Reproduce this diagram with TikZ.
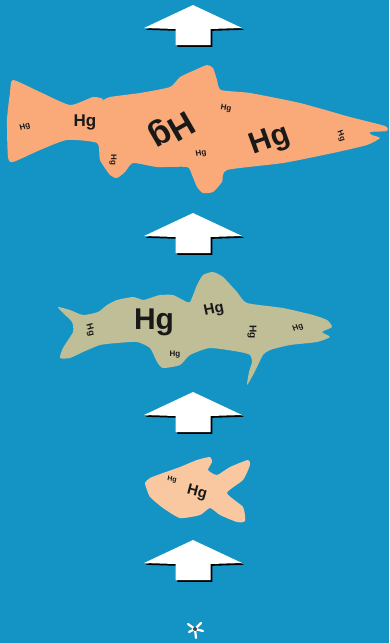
\documentclass[tikz,border=0pt]{standalone}
\usepackage{fontspec}
\setmainfont{Liberation Sans}
\definecolor{water}{RGB}{20,148,197}
\definecolor{trout}{RGB}{249,170,120}
\definecolor{perch}{RGB}{192,190,150}
\definecolor{minnow}{RGB}{249,200,160}
\definecolor{ink}{RGB}{25,25,25}
\tikzset{
  hg/.style={text=ink, inner sep=0pt, font=\bfseries\fontsize{#1}{#1}\selectfont},
  fishbody/.style={fill=#1, draw=none},
  pics/uparrow/.style={code={
    \fill[black] (1.8,1.8) -- (50.8,24.8) -- (19.3,25.8) -- (19.3,41.8) -- (-15.7,41.8) -- (-15.7,25.8) -- (-47.2,24.8) -- cycle;
    \fill[white] (0,0) -- (49,23) -- (17.5,24) -- (17.5,40) -- (-17.5,40) -- (-17.5,24) -- (-49,23) -- cycle;
  }}
}
\begin{document}
\begin{tikzpicture}[x=1pt,y=-1pt]
\fill[water] (0,0) rectangle (389,643);
\useasboundingbox (0,0) rectangle (389,643);

% arrows pointing up the food chain
\pic at (193,5) {uparrow};
\pic at (193,213) {uparrow};
\pic at (193,392) {uparrow};
\pic at (193,540) {uparrow};

% large predator fish
\fill[fishbody=trout] plot[smooth cycle, tension=0.35] coordinates {
  (13,80) (40,92) (70,105) (93,97) (103,99) (100,102) (110,97) (140,93) (170,87)
  (180,77) (195,70) (207,65) (213,68) (217,80) (221,90) (250,93) (300,103)
  (350,117) (385,126) (387,131) (370,132) (372,135) (380,138) (367,145)
  (333,153) (283,163) (227,170) (222,182) (213,192) (203,193) (197,187)
  (192,175) (187,167) (157,167) (133,163) (125,172) (117,178) (110,175)
  (100,160) (97,143) (67,140) (40,150) (13,162) (8,157) (7,120) (10,93)};
\node[hg=8, rotate=15]   (b1) at (25,127)  {Hg};
\node[hg=17]             (b2) at (85,122)  {Hg};
\node[hg=34, rotate=210] (b3) at (171,129) {Hg};
\node[hg=8, rotate=-10]  (b4) at (226,109) {Hg};
\node[hg=8, rotate=10]   (b5) at (201,154) {Hg};
\node[hg=30, rotate=20]  (b6) at (270,141) {Hg};
\node[hg=8, rotate=-70]  (b7) at (341,136) {Hg};
\node[hg=8, rotate=-90]  (b8) at (113,160) {Hg};

% mid-size fish
\fill[fishbody=perch] plot[smooth cycle, tension=0.35] coordinates {
  (58,307) (70,310) (83,315) (98,312) (107,305) (117,300) (133,297) (143,300)
  (150,298) (160,295) (173,295) (183,300) (190,302) (197,285) (203,275)
  (213,272) (223,277) (237,292) (247,303) (283,308) (313,315) (327,320)
  (332,327) (322,332) (330,337) (317,342) (290,345) (270,350) (263,355)
  (258,365) (253,375) (247,385) (249,372) (252,362) (250,355) (240,352)
  (210,348) (190,355) (180,365) (163,368) (157,362) (150,348) (137,342)
  (117,343) (100,345) (83,352) (70,358) (60,358) (63,348) (73,332) (72,322)
  (63,313)};
\node[hg=9, rotate=-75]  (g1) at (90,330)  {Hg};
\node[hg=30]             (g2) at (154,322) {Hg};
\node[hg=15, rotate=12]  (g3) at (214,310) {Hg};
\node[hg=8]              (g4) at (175,355) {Hg};
\node[hg=10, rotate=-90] (g5) at (252,332) {Hg};
\node[hg=8, rotate=20]   (g6) at (298,328) {Hg};

% small fish
\fill[fishbody=minnow] plot[smooth cycle, tension=0.35] coordinates {
  (145,483) (150,478) (163,473) (180,467) (197,460) (210,457) (212,462)
  (208,470) (217,475) (230,467) (248,460) (250,465) (243,480) (227,493)
  (243,507) (245,521) (237,522) (220,515) (210,508) (200,515) (180,518)
  (163,508) (150,497) (147,490)};
\node[hg=7, rotate=-10]  (s1) at (172,480) {Hg};
\node[hg=15, rotate=-15] (s2) at (197,493) {Hg};

% plankton at the base
\begin{scope}[shift={(195,629)}, line width=2.2pt, white, line cap=round]
  \draw (0,0) -- (-7,-5);
  \draw (0,0) -- (6,-6);
  \draw (0,0) -- (8,2);
  \draw (0,0) -- (1,9);
  \draw (0,0) -- (-6,3);
  \fill[ink!80] (0,0) circle (2pt);
\end{scope}
\end{tikzpicture}
\end{document}
